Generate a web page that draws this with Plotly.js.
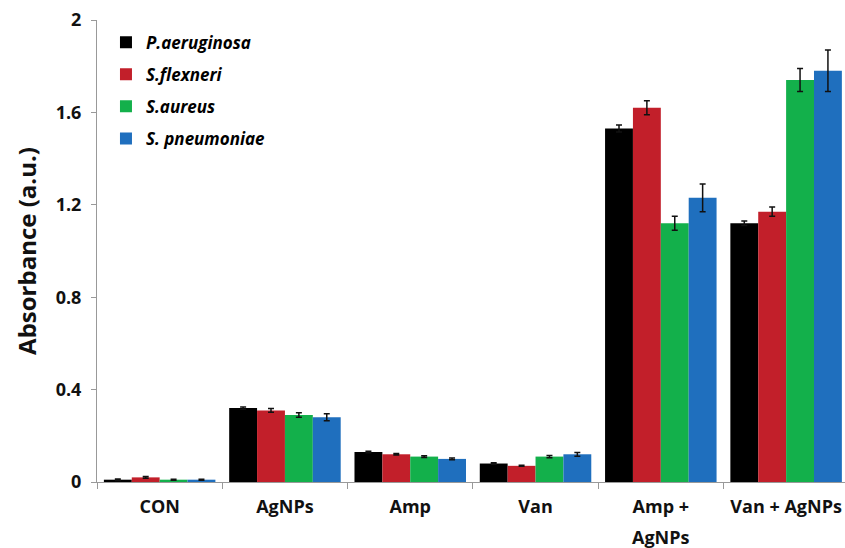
<!DOCTYPE html>
<html><head><meta charset="utf-8">
<script src="https://cdn.plot.ly/plotly-3.0.1.min.js"></script>
<style>html,body{margin:0;padding:0;background:#fff}#chart{width:845px;height:548px}</style>
</head><body><div id="chart"></div>
<script>
const categories = ["CON", "AgNPs", "Amp", "Van", "Amp + AgNPs", "Van + AgNPs"];
const tickLabels = ["CON", "AgNPs", "Amp", "Van", "Amp +", "Van + AgNPs"];
const secondLineLabels = ["", "", "", "", "AgNPs", ""];
const seriesNames = ["P.aeruginosa", "S.flexneri", "S.aureus", "S. pneumoniae"];
const paeruginosa = [0.01, 0.32, 0.13, 0.08, 1.53, 1.12];
const paeruginosaErr = [0.003, 0.005, 0.003, 0.003, 0.015, 0.01];
const sflexneri = [0.02, 0.31, 0.12, 0.07, 1.62, 1.17];
const sflexneriErr = [0.004, 0.008, 0.003, 0.002, 0.03, 0.02];
const saureus = [0.01, 0.29, 0.11, 0.11, 1.12, 1.74];
const saureusErr = [0.002, 0.01, 0.004, 0.005, 0.03, 0.05];
const spneumoniae = [0.01, 0.28, 0.10, 0.12, 1.23, 1.78];
const spneumoniaeErr = [0.002, 0.015, 0.004, 0.008, 0.06, 0.09];
const colors = ["#000000", "#c21f2a", "#13b04b", "#1f6fbe"];

const vals = [paeruginosa, sflexneri, saureus, spneumoniae];
const errs = [paeruginosaErr, sflexneriErr, saureusErr, spneumoniaeErr];
const traces = vals.map((v, i) => ({
  type: "bar", x: categories, y: v, name: seriesNames[i], legendgroup: "g" + i,
  marker: {color: colors[i], line: {width: 0}},
  error_y: {type: "data", array: errs[i], visible: true, color: "#111", thickness: 1.5, width: 3}
}));

const font = "Open Sans, Liberation Sans, sans-serif";
const annotations = [];
secondLineLabels.forEach((t, i) => {
  if (t) annotations.push({xref: "x", yref: "paper", x: categories[i], y: 0, yshift: -55, yanchor: "middle",
    showarrow: false, text: t, font: {family: font, size: 18, color: "#111", weight: "bold"}});
});

const layout = {
  width: 845, height: 548,
  margin: {l: 97, r: 0, t: 20, b: 66},
  barmode: "group", bargap: 0.11, bargroupgap: 0,
  paper_bgcolor: "#fff", plot_bgcolor: "#fff",
  showlegend: true,
  legend: {x: 0.012, y: 0.99, xanchor: "left", yanchor: "top", bgcolor: "rgba(0,0,0,0)",
    traceorder: "grouped", tracegroupgap: 7,
    font: {family: font, size: 17, color: "#000", style: "italic", weight: "bold"}, itemwidth: 30},
  annotations: annotations,
  xaxis: {type: "category", range: [-0.5, 5.47], showline: true, linecolor: "#999", linewidth: 1,
    tickvals: categories, ticktext: tickLabels,
    ticks: "outside", tickson: "boundaries", ticklen: 6, tickcolor: "#999", showgrid: false,
    ticklabelstandoff: 8,
    tickfont: {family: font, size: 18, color: "#111", weight: "bold"}},
  yaxis: {range: [0, 2], tickvals: [0, 0.4, 0.8, 1.2, 1.6, 2], ticktext: ["0", "0.4", "0.8", "1.2", "1.6", "2"],
    showline: true, linecolor: "#999", linewidth: 1, ticks: "outside", ticklen: 5, tickcolor: "#999",
    showgrid: false, zeroline: false, ticklabelstandoff: 6,
    tickfont: {family: font, size: 18, color: "#111", weight: "bold"},
    title: {text: "Absorbance (a.u.)", font: {family: font, size: 24, color: "#111", weight: "bold"}, standoff: 12}}
};
Plotly.newPlot("chart", traces, layout, {displayModeBar: false, staticPlot: true});
</script></body></html>
